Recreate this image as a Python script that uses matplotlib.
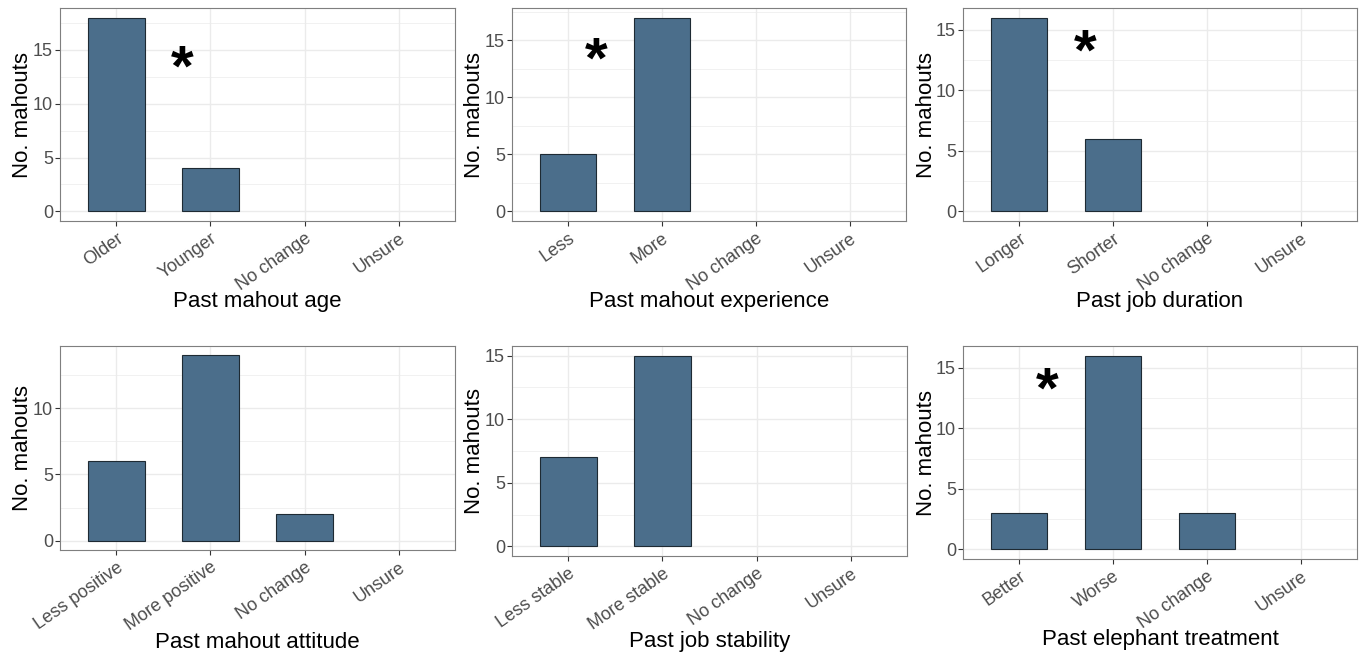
import numpy as np
import matplotlib
matplotlib.use("Agg")
import matplotlib.pyplot as plt

plt.rcParams['font.family'] = ['Liberation Sans', 'DejaVu Sans']

# counts per answer; zero means the level exists but nobody chose it
age_cats = ["Older", "Younger", "No change", "Unsure"]
age_counts = [18, 4, 0, 0]

exp_cats = ["Less", "More", "No change", "Unsure"]
exp_counts = [5, 17, 0, 0]

dur_cats = ["Longer", "Shorter", "No change", "Unsure"]
dur_counts = [16, 6, 0, 0]

att_cats = ["Less positive", "More positive", "No change", "Unsure"]
att_counts = [6, 14, 2, 0]

stab_cats = ["Less stable", "More stable", "No change", "Unsure"]
stab_counts = [7, 15, 0, 0]

treat_cats = ["Better", "Worse", "No change", "Unsure"]
treat_counts = [3, 16, 3, 0]

titles = ["Past mahout age", "Past mahout experience", "Past job duration",
          "Past mahout attitude", "Past job stability", "Past elephant treatment"]
star_x = [1.7, 1.3, 1.7, None, None, 1.3]
star_y = 11.7

panels = [
    (age_cats, age_counts),
    (exp_cats, exp_counts),
    (dur_cats, dur_counts),
    (att_cats, att_counts),
    (stab_cats, stab_counts),
    (treat_cats, treat_counts),
]

# pixel boxes (left, top, right, bottom) and x-title baselines
boxes = [
    (60, 8, 455, 221), (512, 8, 906, 221), (963, 8, 1357, 221),
    (60, 346, 455, 550), (512, 346, 907, 556), (963, 346, 1357, 559),
]
title_base = [307.5, 307.5, 307.5, 648, 647, 645]

W, H = 1361, 653
fig = plt.figure(figsize=(W / 100, H / 100), dpi=100)
fig.patch.set_facecolor('white')

bar_color = "#4B6E8B"
grid_col = "#EBEBEB"

for i, ((cats, counts), (l, t, r, b)) in enumerate(zip(panels, boxes)):
    ax = fig.add_axes([l / W, 1 - b / H, (r - l) / W, (b - t) / H])
    x = np.arange(1, len(cats) + 1)
    counts = np.array(counts)
    ymax = counts.max()
    ax.set_xlim(0.4, len(cats) + 0.6)
    ax.set_ylim(-0.05 * ymax, ymax * 1.05)

    # ggplot-like grid
    ax.set_yticks(np.arange(0, ymax + 1, 5))
    ax.set_yticks(np.arange(2.5, ymax * 1.05, 5), minor=True)
    ax.set_xticks(x)
    ax.grid(True, which='major', color=grid_col, lw=1.0, zorder=0)
    ax.grid(True, which='minor', axis='y', color=grid_col, lw=0.5, zorder=0)
    ax.set_axisbelow(True)

    keep = counts > 0
    ax.bar(x[keep], counts[keep], width=0.6, color=bar_color,
           edgecolor="#1E2A33", lw=0.8, zorder=2)

    ax.set_xticklabels(cats, rotation=35, ha='right', rotation_mode='anchor',
                       fontsize=13, color="#4D4D4D")
    for lab in ax.get_yticklabels():
        lab.set_fontsize(13)
        lab.set_color("#4D4D4D")
    ax.tick_params(axis='both', which='major', length=3.5, width=0.8, color="#333333")
    ax.tick_params(axis='y', which='minor', length=0)
    ax.tick_params(axis='x', pad=3)
    ax.tick_params(axis='y', pad=1.5)

    for s in ax.spines.values():
        s.set_color("#7F7F7F")
        s.set_linewidth(0.8)

    ax.set_ylabel("No. mahouts", fontsize=16, color='black')
    ax.yaxis.label.set_va('center')
    ax.yaxis.set_label_coords(-37 / (r - l), 0.5)

    fig.text((l + r) / 2 / W, 1 - title_base[i] / H, titles[i], fontsize=16,
             ha='center', va='baseline', color='black')

    if star_x[i] is not None:
        ax.text(star_x[i], star_y, "*", fontsize=42, fontweight='bold',
                ha='center', va='baseline', color='black', zorder=3)

fig.savefig("out.png", dpi=100, facecolor='white')
